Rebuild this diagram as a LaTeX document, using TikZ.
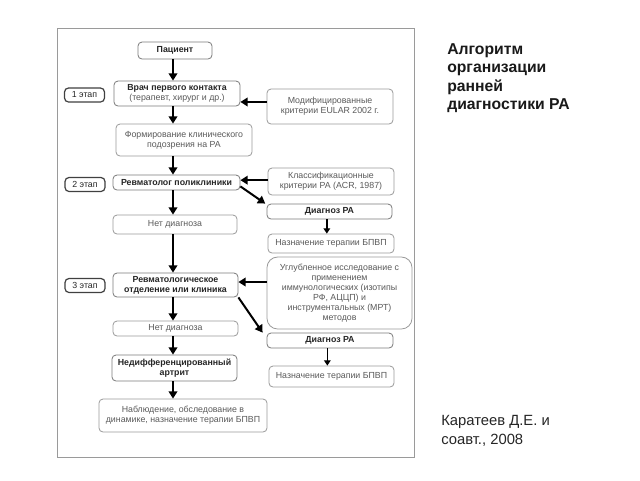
\documentclass[tikz,border=0pt]{standalone}
\usepackage{fontspec}
\setmainfont{Liberation Sans}
\usetikzlibrary{arrows.meta}
\definecolor{txtgray}{HTML}{5A5A5A}
\definecolor{bordgray}{HTML}{9A9A9A}
\definecolor{bolbord}{HTML}{7A7A7A}
\tikzset{
  box/.style={draw=bordgray, line width=0.6pt, rounded corners=3pt, align=center,
    inner sep=1pt, text=txtgray, font=\fontsize{6.6}{7.3}\selectfont},
  bbox/.style={box, draw=bolbord, text=black!85, font=\fontsize{6.6}{7.3}\selectfont\bfseries},
  stagebox/.style={draw=black!75, line width=0.9pt, rounded corners=3pt, align=center,
    inner sep=1pt, text=black!85, font=\fontsize{6.6}{7.3}\selectfont,
    minimum width=30pt, minimum height=10.5pt},
  arr/.style={line width=1.5pt, -{Triangle[length=5.5pt,width=6.5pt]}},
  sarr/.style={line width=1.2pt, -{Triangle[length=4pt,width=5pt]}}
}
\begin{document}
\begin{tikzpicture}[x=0.75pt,y=-0.75pt]
\useasboundingbox (0,0) rectangle (640,480);
\fill[white] (0,0) rectangle (640,480);
\draw[draw=bordgray, line width=0.7pt] (57,28) rectangle (414,457);

% left column
\node[bbox, minimum width=55.5pt, minimum height=12.75pt] (pac) at (175,50.5) {Пациент};
\node[bbox, minimum width=94.5pt, minimum height=18.75pt] (vrach) at (177,93.5)
  {Врач первого контакта\\\mdseries\color{txtgray}(терапевт, хирург и др.)};
\node[box, minimum width=102pt, minimum height=24pt] (form) at (184,140)
  {Формирование клинического\\подозрения на РА};
\node[bbox, minimum width=95.25pt, minimum height=11.25pt] (revp) at (176.5,182.5)
  {Ревматолог поликлиники};
\node[box, minimum width=93pt, minimum height=14.25pt] (net1) at (175,224.5) {Нет диагноза};
\node[bbox, minimum width=93.75pt, minimum height=18pt] (revo) at (175.5,285)
  {Ревматологическое\\отделение или клиника};
\node[box, minimum width=93.75pt, minimum height=11.25pt] (net2) at (175.5,328.5) {Нет диагноза};
\node[bbox, minimum width=93.75pt, minimum height=19.5pt] (nedif) at (174.5,368)
  {Недифференцированный\\артрит};
\node[box, minimum width=126pt, minimum height=24.75pt] (nabl) at (183,415.5)
  {Наблюдение, обследование в\\динамике, назначение терапии БПВП};

% stages
\node[stagebox] (st1) at (84.5,95) {1 этап};
\node[stagebox] (st2) at (85,184.5) {2 этап};
\node[stagebox] (st3) at (85,285.5) {3 этап};

% right column
\node[box, minimum width=94.5pt, minimum height=26.25pt] (modif) at (330,106.5)
  {Модифицированные\\критерии EULAR 2002 г.};
\node[box, minimum width=94.5pt, minimum height=20.25pt] (klass) at (331,181.5)
  {Классификационные\\критерии РА (ACR, 1987)};
\node[bbox, minimum width=93.75pt, minimum height=11.25pt] (diag1) at (329.5,211.5) {Диагноз РА};
\node[box, minimum width=94.5pt, minimum height=14.25pt] (nazn1) at (331,243.5) {Назначение терапии БПВП};
\node[box, rounded corners=8pt, minimum width=108.75pt, minimum height=54pt,
  font=\fontsize{6.6}{7.6}\selectfont] (uglub) at (339.5,293)
  {Углубленное исследование с\\применением\\иммунологических (изотипы\\РФ, АЦЦП) и\\инструментальных (МРТ)\\методов};
\node[bbox, minimum width=94.5pt, minimum height=11.25pt] (diag2) at (330,340.5) {Диагноз РА};
\node[box, minimum width=93.75pt, minimum height=15.75pt] (nazn2) at (331.5,376.5) {Назначение терапии БПВП};

% title and citation
\node[anchor=north west, align=left, inner sep=0pt, text=black!90,
  font=\fontsize{11.8}{13.9}\selectfont\bfseries] (title) at (447,43)
  {Алгоритм\\организации\\ранней\\диагностики РА};
\node[anchor=north west, align=left, inner sep=0pt, text=black!85,
  font=\fontsize{11.1}{14.2}\selectfont] (cite) at (441,415)
  {Каратеев Д.Е. и\\соавт., 2008};

% vertical axis arrows
\coordinate (ax) at (173,0);
\draw[arr] (ax |- pac.south) -- (ax |- vrach.north);
\draw[arr] (ax |- vrach.south) -- (ax |- form.north);
\draw[arr] (ax |- form.south) -- (ax |- revp.north);
\draw[arr] (ax |- revp.south) -- (ax |- net1.north);
\draw[arr] (ax |- net1.south) -- (ax |- revo.north);
\draw[arr] (ax |- revo.south) -- (ax |- net2.north);
\draw[arr] (ax |- net2.south) -- (ax |- nedif.north);
\draw[arr] (ax |- nedif.south) -- (ax |- nabl.north);

% horizontal arrows
\draw[arr] ([yshift=3.4pt]modif.west) -- ([yshift=3.4pt]modif.west -| vrach.east);
\draw[arr] ([yshift=1pt]klass.west) -- ([yshift=1pt]klass.west -| revp.east);
\draw[arr] ([yshift=8.25pt]uglub.west) -- ([yshift=8.25pt]uglub.west -| revo.east);

% diagonals
\draw[arr] ([yshift=3pt]revp.south east) -- ([xshift=-1pt]diag1.north west);
\draw[arr] (revo.south east) -- ([xshift=-3pt]diag2.north west);

% small arrows
\draw[sarr] ([xshift=-2pt]diag1.south) -- ([xshift=-2pt]diag1.south |- nazn1.north);
\draw[sarr] ([xshift=-2pt]diag2.south) -- ([xshift=-2pt]diag2.south |- nazn2.north);
\end{tikzpicture}
\end{document}
